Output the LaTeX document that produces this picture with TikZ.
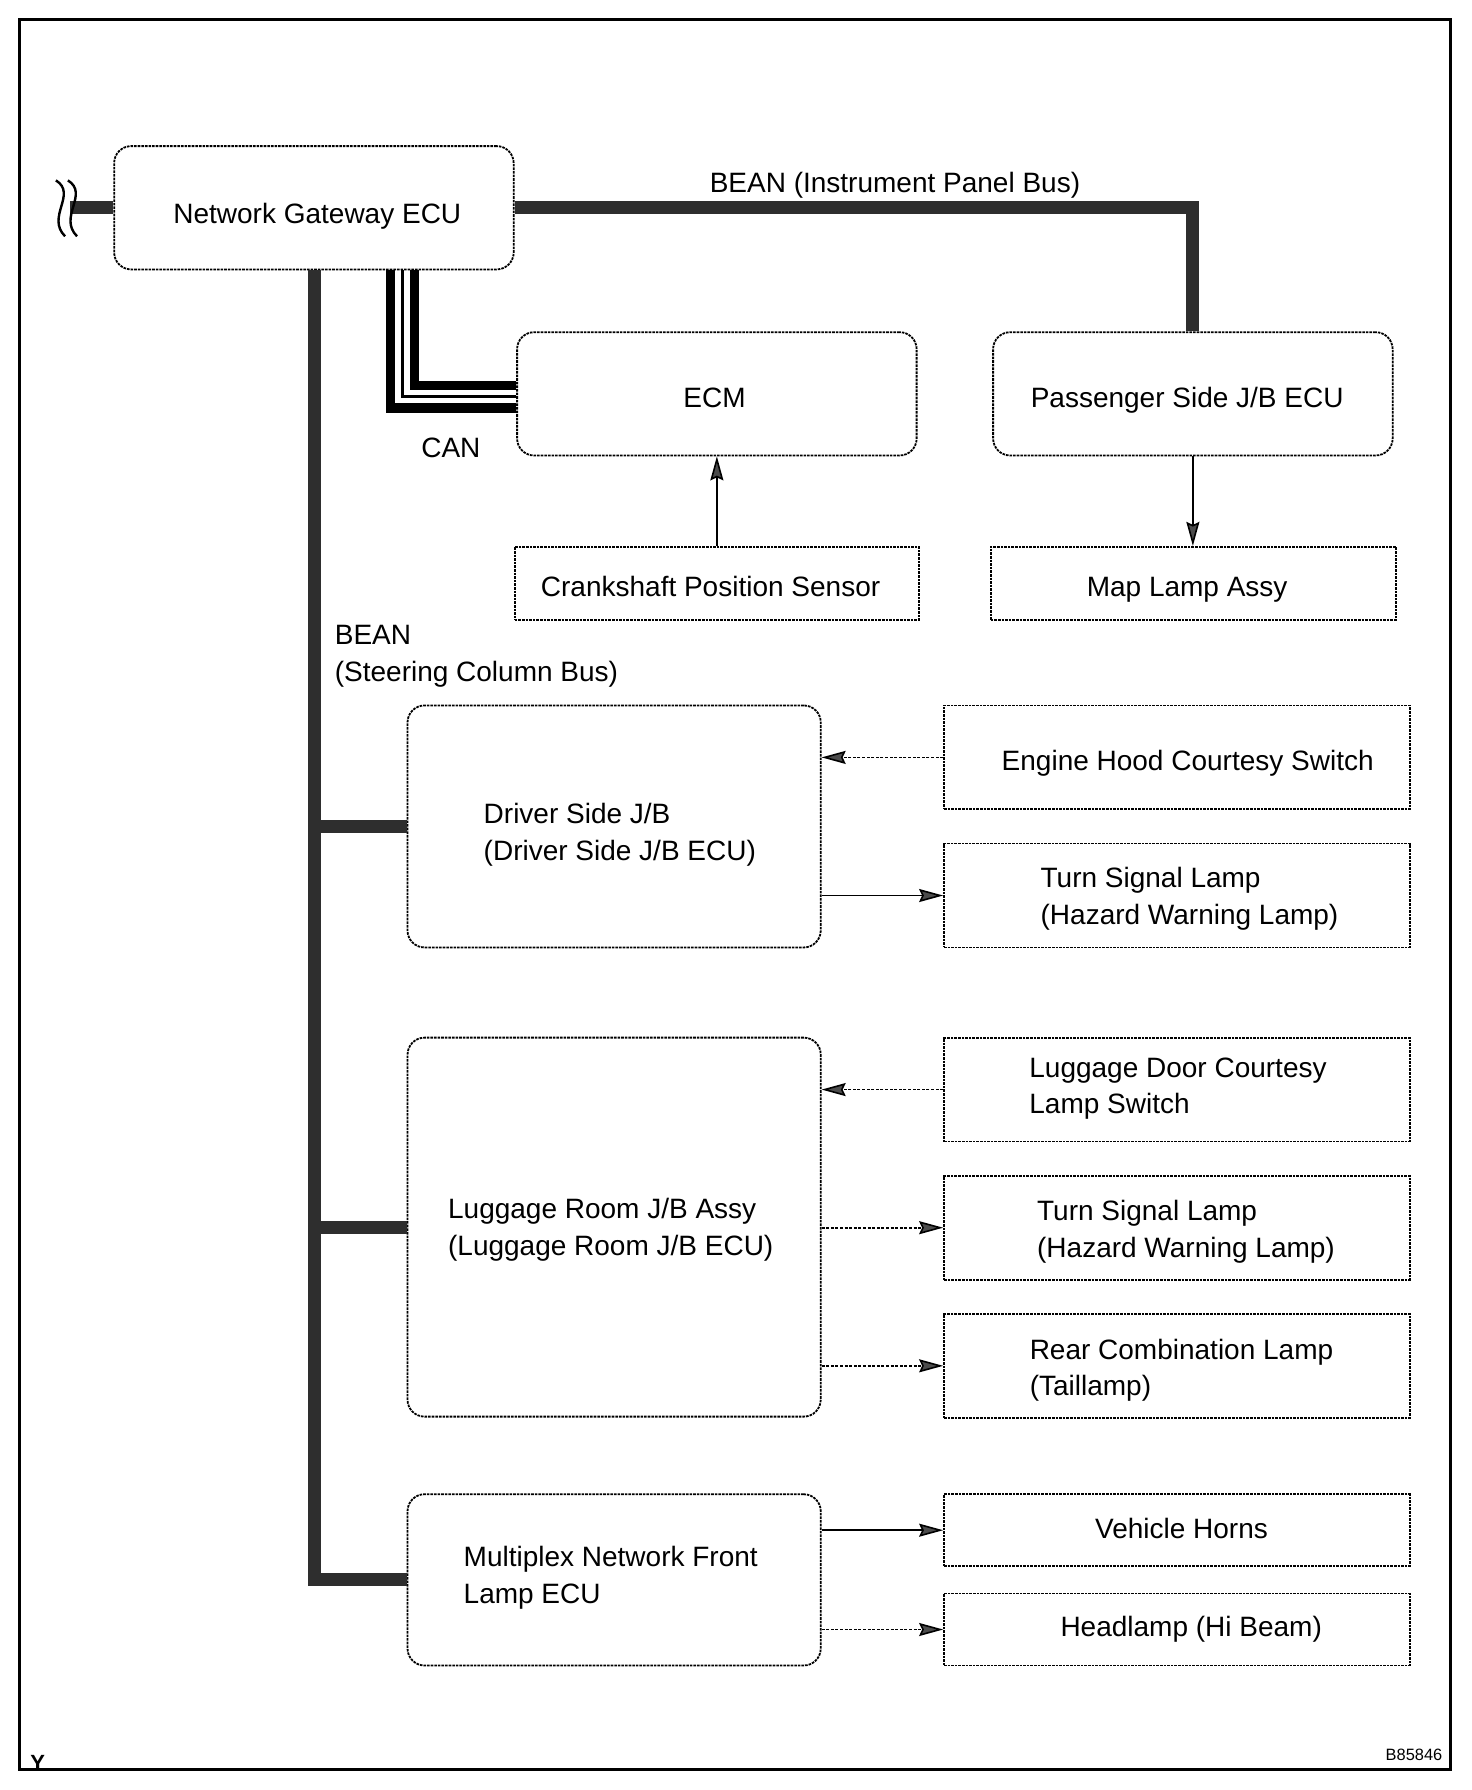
\documentclass[tikz,border=0pt]{standalone}
\usepackage{fontspec}
\setmainfont{Liberation Sans}
\usetikzlibrary{arrows.meta}
\newdimen\uu \uu=0.5708pt
% #1: twice the horizontal shift, #2: raise, #3: text
\newcommand\tx[3]{\makebox[0pt][c]{\hspace*{#1}\raisebox{#2}[0pt][0pt]{\begin{tabular}{@{}l@{}}#3\end{tabular}}}}
\begin{document}
\begin{tikzpicture}[x=0.5708pt,y=-0.5708pt,
  font=\fontsize{14}{18.3}\selectfont,
  boxline/.style={draw=black, line width=0.9pt, dash pattern=on 1.3pt off 0.5pt},
  rbox/.style={boxline, rounded corners=8.5pt, inner sep=0pt},
  sbox/.style={boxline, inner sep=0pt},
  bus/.style={draw=black!82, line width=6.5pt, line join=miter, line cap=butt},
  canthick/.style={draw=black, line width=4.6pt, line join=miter},
  canthin/.style={draw=black, line width=1.2pt, line join=miter},
  sig/.style={draw=black, line width=0.8pt, -{Stealth[length=12pt,width=6.5pt,inset=1.5pt,fill=black!70]}},
  sigd/.style={sig, dash pattern=on 1.5pt off 0.8pt},
  lbl/.style={inner sep=0pt}]
\useasboundingbox (0,0) rectangle (1289.5,1568.1);
\draw[line width=1.6pt] (17.1,17.1) rectangle (1270.6,1550.1);

% boxes
\node[rbox, minimum width=350\uu, minimum height=108\uu] (gw) at (275,182) {\tx{3.4pt}{-7.7pt}{Network Gateway ECU}};
\node[rbox, minimum width=350\uu, minimum height=108\uu] (ecm) at (628,345) {\tx{-2.3pt}{-6.55pt}{ECM}};
\node[rbox, minimum width=350\uu, minimum height=108\uu] (pass) at (1045,345) {\tx{-5.7pt}{-6.55pt}{Passenger Side J/B ECU}};
\node[sbox, minimum width=354\uu, minimum height=64\uu] (crank) at (628,511) {\tx{-6.3pt}{-6.55pt}{Crankshaft Position Sensor}};
\node[sbox, minimum width=355\uu, minimum height=64\uu] (map) at (1045.5,511) {\tx{-6.3pt}{-6.55pt}{Map Lamp Assy}};

\node[rbox, minimum width=362\uu, minimum height=212\uu] (drv) at (538,724) {\tx{5.7pt}{-7.7pt}{Driver Side J/B\\(Driver Side J/B ECU)}};
\node[sbox, minimum width=408\uu, minimum height=91\uu] (hood) at (1031,663.5) {\tx{10.8pt}{-6.27pt}{Engine Hood Courtesy Switch}};
\node[sbox, minimum width=408\uu, minimum height=91\uu] (turna) at (1031,784.5) {\tx{12.6pt}{-5.1pt}{Turn Signal Lamp\\(Hazard Warning Lamp)}};

\node[rbox, minimum width=362\uu, minimum height=332\uu] (lug) at (538,1075) {\tx{-3.4pt}{-4.84pt}{Luggage Room J/B Assy\\(Luggage Room J/B ECU)}};
\node[sbox, minimum width=408\uu, minimum height=91\uu] (door) at (1031,954.5) {\tx{1.1pt}{-2.84pt}{Luggage Door Courtesy\\Lamp Switch}};
\node[sbox, minimum width=408\uu, minimum height=91\uu] (turnb) at (1031,1075.5) {\tx{9.1pt}{-5.7pt}{Turn Signal Lamp\\(Hazard Warning Lamp)}};
\node[sbox, minimum width=408\uu, minimum height=91\uu] (rear) at (1031,1196.5) {\tx{4.6pt}{-5.7pt}{Rear Combination Lamp\\(Taillamp)}};

\node[rbox, minimum width=362\uu, minimum height=150\uu] (mpx) at (538,1384) {\tx{-3.4pt}{-2.56pt}{Multiplex Network Front\\Lamp ECU}};
\node[sbox, minimum width=408\uu, minimum height=63\uu] (horn) at (1031,1340.5) {\tx{4.6pt}{-3.98pt}{Vehicle Horns}};
\node[sbox, minimum width=408\uu, minimum height=63\uu] (head) at (1031,1427.5) {\tx{14.3pt}{-3.41pt}{Headlamp (Hi Beam)}};

% labels
\node[lbl] (beanip) at (784,162) {BEAN (Instrument Panel Bus)};
\node[lbl] (can) at (395,392) {CAN};
\node[lbl, anchor=west, align=left] (beansc) at (293,575) {BEAN\\(Steering Column Bus)};
\node[lbl, anchor=base, font=\fontsize{11}{12}\selectfont\bfseries] (y) at (33,1551) {Y};
\node[lbl, font=\fontsize{8.2}{10}\selectfont] (code) at (1238.7,1537) {B85846};

% helper coordinates
\coordinate (brk) at (61,182);
\coordinate (bx) at (275.5,0);
\coordinate (ca) at (363,0);
\coordinate (cb) at (352.5,0);
\coordinate (cc) at (342,0);
\coordinate (ya) at (0,337.5);
\coordinate (yb) at (0,347.5);
\coordinate (yc) at (0,357.5);

% buses
\draw[bus] (gw.west) -- (brk);
\draw[bus] (gw.east) -| (pass.north);
\draw[bus] (bx |- gw.south) -- (bx |- mpx.west) -- (mpx.west);
\draw[bus] (bx |- drv.west) -- (drv.west);
\draw[bus] (bx |- lug.west) -- (lug.west);

% break mark
\draw[line width=1.2pt] (49,158) .. controls (68,170) and (40,190) .. (57,207);
\draw[line width=1.2pt] (59.5,158) .. controls (78.5,170) and (50.5,190) .. (67.5,207);

% CAN
\draw[canthick] (ca |- gw.south) -- (ca |- ya) -- (ya -| ecm.west);
\draw[canthin] (cb |- gw.south) -- (cb |- yb) -- (yb -| ecm.west);
\draw[canthick] (cc |- gw.south) -- (cc |- yc) -- (yc -| ecm.west);

% signals
\draw[sig] (crank.north) -- (ecm.south);
\draw[sig] (pass.south) -- (pass.south |- map.north);
\draw[sigd] (hood.west) -- (hood.west -| drv.east);
\draw[sig] (drv.east |- turna.west) -- (turna.west);
\draw[sigd] (door.west) -- (door.west -| lug.east);
\draw[sigd] (lug.east |- turnb.west) -- (turnb.west);
\draw[sigd] (lug.east |- rear.west) -- (rear.west);
\draw[sig] (mpx.east |- horn.west) -- (horn.west);
\draw[sigd] (mpx.east |- head.west) -- (head.west);
\end{tikzpicture}
\end{document}
